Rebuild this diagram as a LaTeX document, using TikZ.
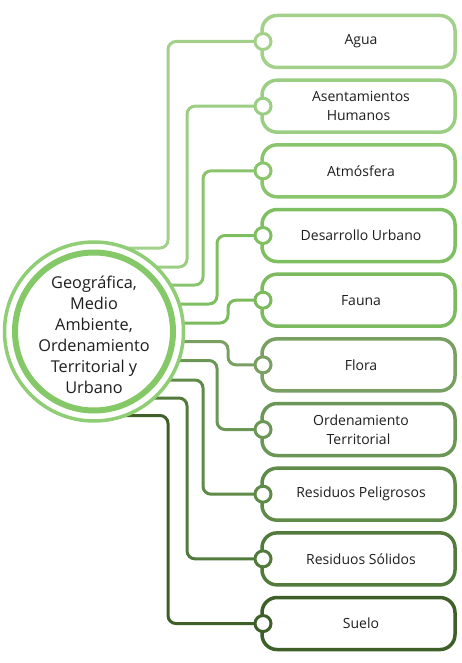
\documentclass[tikz,border=0pt]{standalone}
\usepackage{fontspec}
\setmainfont{Open Sans}
\definecolor{c0}{HTML}{A3D18C}
\definecolor{c1}{HTML}{9BCD83}
\definecolor{c2}{HTML}{8AC56E}
\definecolor{c3}{HTML}{7EC061}
\definecolor{c4}{HTML}{7BBA5D}
\definecolor{c5}{HTML}{7A9F63}
\definecolor{c6}{HTML}{6B9655}
\definecolor{c7}{HTML}{5F8A48}
\definecolor{c8}{HTML}{527A3C}
\definecolor{c9}{HTML}{3E5F27}
\definecolor{hubin}{HTML}{84C867}
\definecolor{hubout}{HTML}{8FCE74}
\definecolor{textcol}{HTML}{1E1E1E}
\begin{document}
\begin{tikzpicture}[x=1pt,y=-1pt]
\tikzset{
  topic/.style={draw=#1, line width=3.5pt, rounded corners=15pt, fill=white,
    minimum width=193pt, minimum height=52pt, inner sep=0pt, text=textcol,
    font=\fontsize{14}{18.5}\selectfont, align=center},
  link/.style={draw=#1, line width=3pt, rounded corners=8pt},
  knob/.style={circle, draw=#1, line width=3pt, fill=white, minimum size=16pt, inner sep=0pt},
  hubtext/.style={text=textcol, font=\fontsize{16.3}{21}\selectfont, align=center}
}
\useasboundingbox (0,0) rectangle (461,663);
\fill[white] (0,0) rectangle (461,663);
\coordinate (hubc) at (94,331.5);
\foreach \i in {0,...,9}{
  \path (358.5,41.5+64.67*\i) coordinate (bc\i);
}
% connectors
\foreach \i/\dy/\vx in {0/-83.5/168,1/-64.5/187,2/-46.5/203,3/-27.5/217,4/-8.5/228,5/10/228,6/29/217,7/48.5/203,8/66.5/187,9/84/168}{
  \coordinate (k\i) at (263,41.5+64.67*\i);
  \draw[link=c\i] (hubc) ++(0,\dy) -- (\vx,331.5+\dy) |- (k\i);
}
% boxes and knobs
\foreach \i/\txt in {0/Agua,1/{Asentamientos\\Humanos},2/Atmósfera,3/Desarrollo Urbano,4/Fauna,5/Flora,6/{Ordenamiento\\Territorial},7/Residuos Peligrosos,8/Residuos Sólidos,9/Suelo}{
  \node[topic=c\i] (b\i) at (bc\i) {\hspace*{5pt}\txt};
  \node[knob=c\i] (n\i) at (k\i) {};
}
% hub
\node[circle, draw=hubout, line width=3.5pt, fill=white, minimum size=179pt, inner sep=0pt] (hubouter) at (hubc) {};
\node[circle, draw=hubin, line width=6pt, fill=white, minimum size=158pt, inner sep=0pt] (hub) at (hubc) {};
\node[hubtext] (hubt) at ([yshift=-3pt]hubc) {Geográfica,\\Medio\\Ambiente,\\Ordenamiento\\Territorial y\\Urbano};
\end{tikzpicture}
\end{document}
